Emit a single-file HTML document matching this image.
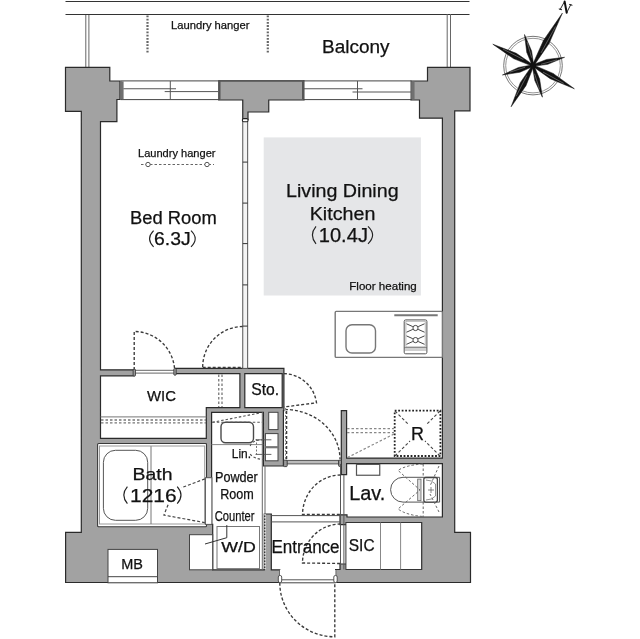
<!DOCTYPE html>
<html><head><meta charset="utf-8">
<style>
html,body{margin:0;padding:0;background:#fff;width:640px;height:639px;overflow:hidden}
svg{position:absolute;left:0;top:0;display:block;will-change:transform}
text{font-family:"Liberation Sans",sans-serif;fill:#111}
</style></head><body>
<svg width="640" height="639" viewBox="0 0 640 639">
<defs>
 <g id="walls">
  <polygon points="65.5,67.4 109.8,67.4 109.8,81 120,81 120,99.5 116.9,99.5 116.9,121.7 100.5,121.7 100.5,532 81.3,532 81.3,111.3 65.5,111.3"/>
  <polygon points="218.75,80.8 304,80.8 304,100 268.75,100 268.75,112 248,112 248,119.4 242.75,119.4 242.75,100 218.75,100"/>
  <polygon points="427.5,67.4 470,67.4 470,110.8 454.7,110.8 454.7,532.3 470.5,532.3 470.5,582.5 335.6,582.5 335.6,569.5 421.6,569.5 421.6,522.5 347,522.5 347,517 442.4,517 442.4,118.2 419.5,118.2 419.5,100 411,100 411,81 427.5,81"/>
  <polygon points="65.6,532.4 81.3,532.4 81.3,524.4 212.7,524.4 212.7,569.8 264.3,569.8 264.3,514 271.3,514 271.3,569.8 279.8,569.8 279.8,582.5 65.6,582.5"/>
  <rect x="100.5" y="438.3" width="110.9" height="5.9"/>
  <rect x="206.3" y="407.7" width="5.3" height="118"/>
  <rect x="206.3" y="407.7" width="77.1" height="4.6"/>
  <rect x="263.4" y="407.7" width="20" height="58.3"/>
  <rect x="100.5" y="369.8" width="33.6" height="6"/>
  <rect x="175.5" y="368.3" width="108.4" height="5.3"/>
  <rect x="239.9" y="372.5" width="4.9" height="35.5"/>
  <rect x="282.2" y="368.3" width="1.7" height="42.4"/>
  <rect x="341.3" y="410.6" width="5.3" height="64"/>
  <rect x="346.6" y="458.1" width="95.8" height="5.5"/>
  <rect x="340" y="514.8" width="7" height="9.9"/>
  <rect x="340" y="564" width="7" height="6"/>
 </g>
</defs>
<!-- balcony -->
<g stroke="#333" stroke-width="1" fill="none">
 <line x1="65.5" y1="1.5" x2="469.5" y2="1.5"/>
 <line x1="65.5" y1="14.5" x2="469.5" y2="14.5"/>
</g>
<g stroke="#666" stroke-width="1" fill="none">
 <line x1="85.8" y1="15" x2="85.8" y2="67.4"/><line x1="88.9" y1="15" x2="88.9" y2="67.4"/>
 <line x1="447.2" y1="14" x2="447.2" y2="67.4"/><line x1="450.5" y1="14" x2="450.5" y2="67.4"/>
</g>
<g stroke="#666" stroke-width="2.2" stroke-dasharray="1.8,1.4" fill="none">
 <line x1="147.5" y1="15.5" x2="147.5" y2="52.5"/>
 <line x1="267.8" y1="15.5" x2="267.8" y2="52.5"/>
</g>

<!-- living gray -->
<rect x="263.7" y="137.4" width="157.2" height="158.1" fill="#e5e6e8"/>

<!-- walls -->
<path id="wallpath" d="M81.30,111.30 L81.30,532.40 L65.60,532.40 L65.60,582.50 L279.80,582.50 L279.80,569.80 L271.30,569.80 L271.30,514.00 L264.30,514.00 L264.30,569.80 L212.70,569.80 L212.70,524.40 L211.60,524.40 L211.60,412.30 L263.40,412.30 L263.40,466.00 L283.40,466.00 L283.40,410.70 L283.90,410.70 L283.90,368.30 L175.50,368.30 L175.50,373.60 L239.90,373.60 L239.90,407.70 L206.30,407.70 L206.30,438.30 L100.50,438.30 L100.50,375.80 L134.10,375.80 L134.10,369.80 L100.50,369.80 L100.50,121.70 L116.90,121.70 L116.90,99.50 L120.00,99.50 L120.00,81.00 L109.80,81.00 L109.80,67.40 L65.50,67.40 L65.50,111.30 Z M282.20,407.70 L244.80,407.70 L244.80,373.60 L282.20,373.60 Z M206.30,444.20 L206.30,524.40 L100.50,524.40 L100.50,444.20 Z M248.00,119.40 L248.00,112.00 L268.75,112.00 L268.75,100.00 L304.00,100.00 L304.00,80.80 L218.75,80.80 L218.75,100.00 L242.75,100.00 L242.75,119.40 Z M419.50,100.00 L419.50,118.20 L442.40,118.20 L442.40,458.10 L346.60,458.10 L346.60,410.60 L341.30,410.60 L341.30,474.60 L346.60,474.60 L346.60,463.60 L442.40,463.60 L442.40,517.00 L347.00,517.00 L347.00,514.80 L340.00,514.80 L340.00,524.70 L347.00,524.70 L347.00,522.50 L421.60,522.50 L421.60,569.50 L347.00,569.50 L347.00,564.00 L340.00,564.00 L340.00,569.50 L335.60,569.50 L335.60,582.50 L470.50,582.50 L470.50,532.30 L454.70,532.30 L454.70,110.80 L470.00,110.80 L470.00,67.40 L427.50,67.40 L427.50,81.00 L411.00,81.00 L411.00,100.00 Z" fill="#a2a2a2" stroke="#2a2a2a" stroke-width="1.2" stroke-linejoin="miter"/>

<!-- windows -->
<g fill="#fff" stroke="#444" stroke-width="1">
 <rect x="121" y="80.9" width="97.75" height="18.7"/>
 <rect x="304" y="80.9" width="107" height="18.7"/>
</g>
<g stroke="#555" stroke-width="1" fill="none">
 <line x1="121.9" y1="81.3" x2="121.9" y2="99.2" stroke-width="3.4" stroke="#707070"/>
 <line x1="219.5" y1="81" x2="219.5" y2="99.5" stroke-width="2"/>
 <line x1="170.3" y1="81" x2="170.3" y2="99.5"/>
 <line x1="123.4" y1="88.75" x2="176" y2="88.75"/>
 <line x1="164.7" y1="91.6" x2="218" y2="91.6"/>
 <line x1="303" y1="81" x2="303" y2="99.5" stroke-width="2"/>
 <line x1="412.9" y1="81.3" x2="412.9" y2="99.2" stroke-width="3.3" stroke="#707070"/>
 <line x1="357.5" y1="81" x2="357.5" y2="99.5"/>
 <line x1="304" y1="88.75" x2="362.5" y2="88.75"/>
 <line x1="352.5" y1="92" x2="411" y2="92"/>
</g>

<!-- bedroom/living partition -->
<rect x="242.75" y="119.4" width="4.9" height="249" fill="#f4f4f4" stroke="#555" stroke-width="1"/>
<g stroke="#333" stroke-width="1.5">
 <rect x="242.4" y="118.6" width="5.6" height="3.2" rx="1.2" fill="#fff" stroke="#222" stroke-width="1.1"/>
 <line x1="242.75" y1="162.1" x2="247.65" y2="162.1" stroke-width="1"/>
 <line x1="242.75" y1="203.1" x2="247.65" y2="203.1" stroke-width="1"/>
 <line x1="242.75" y1="243.6" x2="247.65" y2="243.6" stroke-width="1"/>
 <line x1="242.75" y1="284.9" x2="247.65" y2="284.9" stroke-width="1"/>
 <line x1="242.75" y1="326.1" x2="247.65" y2="326.1" stroke-width="1"/>
</g>

<!-- bedroom hanger -->
<line x1="141" y1="164.5" x2="214" y2="164.5" stroke="#666" stroke-width="1" stroke-dasharray="2.5,2"/>
<circle cx="148" cy="164.5" r="2.2" fill="#fff" stroke="#555" stroke-width="1"/>
<circle cx="207" cy="164.5" r="2.2" fill="#fff" stroke="#555" stroke-width="1"/>

<!-- doors & dashed -->
<g fill="none" stroke="#3a3a3a" stroke-width="1.35" stroke-dasharray="3,2">
 <path d="M134.2,370 L134.2,331.5 A40.5,40.5 0 0 1 174.7,372"/>
 <path d="M202.7,367 A40.5,40.5 0 0 1 243.2,326.5"/>
 <line x1="202.7" y1="367.3" x2="243" y2="367.3"/>
 <path d="M283.9,373.6 A33.6,33.6 0 0 1 316.5,402.8 L283.9,407"/>
 <path d="M285,409.5 A55,50 0 0 1 340,459"/>
 <line x1="286.6" y1="411" x2="286.6" y2="459"/>
</g>
<!-- WIC sill -->
<rect x="134.2" y="370.3" width="40.8" height="2.8" fill="#fff" stroke="#666" stroke-width="1"/>
<rect x="133.1" y="369.2" width="2.4" height="6.8" rx="0.8" fill="#999" stroke="#333" stroke-width="0.8"/>
<rect x="173.8" y="368.4" width="2.4" height="6.8" rx="0.8" fill="#999" stroke="#333" stroke-width="0.8"/>
<!-- WIC hanger -->
<line x1="100.5" y1="416.9" x2="206.3" y2="416.9" stroke="#777" stroke-width="1"/>
<g stroke="#777" stroke-width="1.3" stroke-dasharray="2.5,2" fill="none">
 <line x1="101" y1="420" x2="206" y2="420"/>
 <line x1="101" y1="422.8" x2="206" y2="422.8"/>
 <line x1="218.75" y1="374.5" x2="218.75" y2="407"/>
 <line x1="222" y1="374.5" x2="222" y2="407"/>
</g>

<!-- hall thin wall -->
<rect x="286.5" y="460.4" width="52.5" height="3.5" fill="#bbb" stroke="#555" stroke-width="1"/>
<rect x="283.6" y="460.2" width="3.6" height="6.4" rx="0.8" fill="#999" stroke="#333" stroke-width="0.9"/>
<rect x="338.6" y="460.1" width="2.9" height="6.3" rx="0.8" fill="#999" stroke="#333" stroke-width="0.9"/>

<!-- powder room -->
<rect x="221" y="422.3" width="32.5" height="20.5" rx="4.5" fill="#fff" stroke="#4a4a4a" stroke-width="1.4"/>
<line x1="211.6" y1="444.6" x2="263.4" y2="444.6" stroke="#888" stroke-width="1"/>
<g fill="none" stroke="#555" stroke-width="1.1" stroke-dasharray="2.5,2">
 <line x1="212.3" y1="422.3" x2="260.8" y2="412.8"/>
 <line x1="212.3" y1="422.3" x2="262" y2="422.3"/>
 <path d="M250.2,446 Q252,440 263,439.8"/>
 <path d="M250.2,454.1 Q254,459 263.4,459.4"/>
</g>
<rect x="268.7" y="412.3" width="9.3" height="17.3" fill="#fff" stroke="#444" stroke-width="1"/>
<rect x="265.4" y="433.6" width="12.6" height="27.2" fill="#fff" stroke="#444" stroke-width="1"/>
<line x1="265.4" y1="447.2" x2="278" y2="447.2" stroke="#777" stroke-width="2.2"/>
<line x1="255.5" y1="439.8" x2="271.4" y2="439.8" stroke="#555" stroke-width="0.9"/>
<line x1="255.5" y1="454.4" x2="271.4" y2="454.4" stroke="#555" stroke-width="0.9"/>
<line x1="256.5" y1="439" x2="256.5" y2="455" stroke="#666" stroke-width="0.9" stroke-dasharray="2,1.5"/>
<line x1="263.4" y1="412.5" x2="263.4" y2="464" stroke="#333" stroke-width="1" stroke-dasharray="2.5,1.5"/>
<line x1="285.5" y1="408" x2="285.5" y2="460" stroke="#888" stroke-width="1" stroke-dasharray="2,1.5"/>

<!-- bath -->
<rect x="97.6" y="443.5" width="108.9" height="83.2" rx="1" fill="#fff" stroke="#3a3a3a" stroke-width="1.1"/>
<rect x="99.5" y="446" width="105.2" height="78" fill="#fff" stroke="#9a9a9a" stroke-width="1"/>
<rect x="103.4" y="450.3" width="44.3" height="70" rx="12" fill="#fff" stroke="#555" stroke-width="1"/>
<line x1="151" y1="446.2" x2="151" y2="524" stroke="#777" stroke-width="1"/>
<rect x="205.4" y="477.7" width="6.5" height="46.7" fill="#fff" stroke="#555" stroke-width="1"/>
<path d="M204.8,478.9 L181.3,487.8 M168.1,504.7 L163.9,515.1 L204.8,522.6" fill="none" stroke="#444" stroke-width="1.2" stroke-dasharray="3,2"/>
<!-- MB / counter / WD -->
<rect x="108" y="549.4" width="49.5" height="33.4" fill="#fff" stroke="#444" stroke-width="1"/>
<line x1="108" y1="576.7" x2="157.5" y2="576.7" stroke="#444" stroke-width="1"/>
<rect x="189.5" y="534.7" width="23.2" height="35.1" fill="#fff" stroke="#444" stroke-width="1"/>
<rect x="217" y="526.5" width="42.5" height="42.1" fill="#fff" stroke="#777" stroke-width="1"/>
<line x1="262.3" y1="412" x2="262.3" y2="570" stroke="#666" stroke-width="1"/>
<line x1="265" y1="465" x2="265" y2="514" stroke="#666" stroke-width="1"/>
<line x1="265" y1="514" x2="265" y2="569" stroke="#fff" stroke-width="1.2" stroke-dasharray="1.5,1.5"/>
<path d="M226.8,525.1 L226.8,537.7 L205,544" fill="none" stroke="#333" stroke-width="1"/>

<!-- entrance -->
<line x1="271.3" y1="515.6" x2="340.5" y2="515.6" stroke="#555" stroke-width="1"/>
<line x1="271.3" y1="521.9" x2="340.5" y2="521.9" stroke="#555" stroke-width="1"/>
<line x1="340.5" y1="463.9" x2="340.5" y2="569.5" stroke="#555" stroke-width="1"/>
<line x1="343.9" y1="474.8" x2="343.9" y2="569.5" stroke="#555" stroke-width="1"/>
<g fill="none" stroke="#3a3a3a" stroke-width="1.35" stroke-dasharray="3,2">
 <path d="M340.5,475 A38,40 0 0 0 302.5,514.5 L340.5,514.5"/>
 <path d="M340.5,524 A38,39 0 0 0 302.5,563 L340.5,563.5"/>
 <path d="M279.8,582.8 A55,54 0 0 0 334.8,636.8 L334.8,582.8"/>
</g>
<rect x="279.8" y="570" width="55.8" height="12.8" fill="#fff" stroke="none"/>
<line x1="279.8" y1="579.8" x2="335.6" y2="579.8" stroke="#555" stroke-width="1"/>
<line x1="279.8" y1="582.8" x2="335.6" y2="582.8" stroke="#444" stroke-width="1"/>
<rect x="278.3" y="575.5" width="3.4" height="7" rx="1.5" fill="#fff" stroke="#444" stroke-width="0.9"/>
<rect x="333.8" y="575.5" width="3.4" height="7" rx="1.5" fill="#fff" stroke="#444" stroke-width="0.9"/>

<!-- kitchen -->
<rect x="335.2" y="311.4" width="107.2" height="46" rx="1" fill="#fff" stroke="#777" stroke-width="1.4"/>
<rect x="346" y="324.7" width="29.5" height="28.3" rx="6" fill="#fff" stroke="#777" stroke-width="1.4"/>
<line x1="394.3" y1="315.2" x2="437.7" y2="315.2" stroke="#777" stroke-width="2"/>
<rect x="404.2" y="319.9" width="22.7" height="33.9" rx="1.5" fill="#fff" stroke="#555" stroke-width="1"/>
<rect x="405.9" y="321.2" width="19.3" height="25.7" fill="none" stroke="#999" stroke-width="0.7"/>
<line x1="404.2" y1="347.8" x2="426.9" y2="347.8" stroke="#666" stroke-width="1"/>
<line x1="404.2" y1="350" x2="426.9" y2="350" stroke="#888" stroke-width="0.8"/>
<g stroke="#444" stroke-width="1" fill="none">
 <path d="M406.5,323.8 L412.8,326.6 M424.5,323.8 L418.2,326.6 M406.5,332.2 L412.8,329.4 M424.5,332.2 L418.2,329.4"/>
 <circle cx="415.5" cy="328" r="2.6"/>
 <path d="M406.5,335.9 L412.8,338.7 M424.5,335.9 L418.2,338.7 M406.5,344.3 L412.8,341.5 M424.5,344.3 L418.2,341.5"/>
 <circle cx="415.5" cy="340.1" r="2.6"/>
</g>

<!-- R -->
<rect x="394.7" y="410.7" width="45.7" height="45.3" fill="none" stroke="#222" stroke-width="1.8" stroke-dasharray="1.8,1.7"/>
<g stroke="#444" stroke-width="1.1" stroke-dasharray="3,2">
 <line x1="395" y1="411" x2="409" y2="425"/><line x1="440" y1="411" x2="426" y2="425"/>
 <line x1="395" y1="456" x2="410" y2="441"/><line x1="440" y1="456" x2="425" y2="441"/>
</g>
<g stroke="#888" stroke-width="1.2" stroke-dasharray="2.5,2" fill="none">
 <line x1="347" y1="428.6" x2="394" y2="428.6"/>
 <line x1="347" y1="432.6" x2="394" y2="432.6"/>
 <line x1="347.5" y1="457.5" x2="394" y2="434"/>
</g>

<!-- Lav -->
<rect x="356.5" y="464.4" width="23.25" height="10.85" fill="#fff" stroke="#555" stroke-width="1.2"/>
<path d="M403,477.3 L439.6,477.3 L439.6,502.1 L403,502.1 A12.4,12.4 0 0 1 403,477.3 Z" fill="#fff" stroke="#555" stroke-width="1"/>
<rect x="417.7" y="479.1" width="3.3" height="21.6" fill="#ddd" stroke="#666" stroke-width="0.8"/>
<rect x="423.8" y="477.5" width="13.6" height="24.6" rx="2" fill="#fff" stroke="#444" stroke-width="1.3"/>
<path d="M426,480 Q432,480 435.5,484 L435.5,496 Q432,500 426,500" fill="none" stroke="#777" stroke-width="0.8"/>
<path d="M428,490 L434,490 M431,487 L431,493" stroke="#666" stroke-width="0.8"/>
<g fill="none" stroke="#666" stroke-width="1" stroke-dasharray="2.5,2">
 <path d="M423,464 Q406,465 398,470.4 L420,490 L398,509 Q406,515 423,516.5"/>
 <line x1="423.2" y1="464" x2="423.2" y2="477"/>
 <line x1="423.2" y1="502" x2="423.2" y2="517"/>
 <path d="M439,466 L430,486 M439,512 L430,494"/>
</g>

<!-- SIC -->
<rect x="345.9" y="522.5" width="75.7" height="47" fill="#fff" stroke="#333" stroke-width="1"/>
<line x1="380.5" y1="522.5" x2="380.5" y2="569.5" stroke="#888" stroke-width="1"/>
<line x1="400.6" y1="522.5" x2="400.6" y2="569.5" stroke="#888" stroke-width="1"/>

<!-- compass -->
<g fill="none">
 <circle cx="533.0" cy="65.6" r="29.3" stroke="#666" stroke-width="0.9"/>
 <circle cx="533.0" cy="65.6" r="27.3" stroke="#888" stroke-width="0.9"/>
</g>
<g fill="#111" stroke="#111" stroke-width="0.5" stroke-linejoin="round">
<polygon points="533.70,65.99 549.02,43.54 562.40,13.10 543.44,40.41 532.30,65.21"/>
<polygon points="532.29,65.22 520.32,82.64 511.10,106.80 525.97,85.64 533.71,65.98"/>
<polygon points="533.38,64.89 516.32,53.32 492.80,44.20 513.50,58.62 532.62,66.31"/>
<polygon points="532.61,66.30 550.16,78.66 574.40,88.80 553.10,73.42 533.39,64.90"/>
<polygon points="533.77,65.39 531.59,50.95 524.50,34.50 526.76,52.26 532.23,65.81"/>
<polygon points="533.20,66.37 547.86,64.28 564.60,57.30 546.58,59.45 532.80,64.83"/>
<polygon points="532.77,64.84 518.50,67.44 502.40,75.00 519.96,72.22 533.23,66.36"/>
<polygon points="532.23,65.83 534.83,80.53 542.40,97.20 539.63,79.11 533.77,65.37"/>
</g>
<g stroke="#fff" stroke-width="0.45" opacity="0.7">
<line x1="541.05" y1="52.87" x2="555.49" y2="26.47"/>
<line x1="526.82" y1="75.52" x2="516.13" y2="96.27"/>
<line x1="523.33" y1="59.54" x2="503.08" y2="49.11"/>
<line x1="542.96" y1="72.10" x2="563.81" y2="83.44"/>
<line x1="531.65" y1="57.61" x2="527.11" y2="42.14"/>
<line x1="541.10" y1="64.30" x2="556.83" y2="59.86"/>
<line x1="525.12" y1="67.19" x2="509.90" y2="72.17"/>
<line x1="534.58" y1="73.73" x2="539.57" y2="89.44"/>
</g>
<circle cx="533.0" cy="65.6" r="3" fill="#111"/>
<g fill="none" stroke="#111" stroke-linecap="round">
 <path d="M560.3,9.2 L564.6,1.4" stroke-width="0.9"/>
 <path d="M564.6,1.4 L566.7,12.7" stroke-width="2"/>
 <path d="M566.7,12.7 L570.7,4.7" stroke-width="0.9"/>
 <path d="M559.2,9 L561.6,9.7" stroke-width="1"/>
 <path d="M569.6,4.5 L572,5.2" stroke-width="1"/>
</g>

<!-- texts -->
<g class="lbl" stroke="#111" stroke-width="0.25">
<text x="171.00" y="29.40" font-size="10.97" textLength="78.51" lengthAdjust="spacingAndGlyphs">Laundry hanger</text>
<text x="322.00" y="52.60" font-size="18.55" textLength="67.55" lengthAdjust="spacingAndGlyphs">Balcony</text>
<text x="138.00" y="157.40" font-size="11.32" textLength="77.51" lengthAdjust="spacingAndGlyphs">Laundry hanger</text>
<text x="130.00" y="224.00" font-size="18.41" textLength="86.83" lengthAdjust="spacingAndGlyphs">Bed Room</text>
<text x="154.00" y="244.60" font-size="17.51" textLength="36.66" lengthAdjust="spacingAndGlyphs">6.3J</text>
<text x="286.00" y="197.30" font-size="18.13" textLength="112.58" lengthAdjust="spacingAndGlyphs">Living Dining</text>
<text x="309.75" y="219.70" font-size="19.03" textLength="65.64" lengthAdjust="spacingAndGlyphs">Kitchen</text>
<text x="318.75" y="242.00" font-size="19.81" textLength="49.19" lengthAdjust="spacingAndGlyphs">10.4J</text>
<text x="349.25" y="289.60" font-size="11.26" textLength="67.54" lengthAdjust="spacingAndGlyphs">Floor heating</text>
<text x="147.00" y="401.30" font-size="15.36" textLength="29.01" lengthAdjust="spacingAndGlyphs">WIC</text>
<text x="251.25" y="394.50" font-size="15.63" textLength="27.92" lengthAdjust="spacingAndGlyphs">Sto.</text>
<text x="132.50" y="479.70" font-size="16.95" textLength="39.95" lengthAdjust="spacingAndGlyphs">Bath</text>
<text x="130.00" y="502.10" font-size="18.55" textLength="46.62" lengthAdjust="spacingAndGlyphs">1216</text>
<text x="231.75" y="457.90" font-size="13.06" textLength="19.23" lengthAdjust="spacingAndGlyphs">Lin.</text>
<text x="215.00" y="482.20" font-size="14.17" textLength="42.80" lengthAdjust="spacingAndGlyphs">Powder</text>
<text x="220.25" y="498.90" font-size="13.79" textLength="33.60" lengthAdjust="spacingAndGlyphs">Room</text>
<text x="214.75" y="521.30" font-size="14.66" textLength="39.77" lengthAdjust="spacingAndGlyphs">Counter</text>
<text x="221.25" y="552.30" font-size="14.31" textLength="34.53" lengthAdjust="spacingAndGlyphs">W/D</text>
<text x="121.25" y="568.70" font-size="14.21" textLength="21.70" lengthAdjust="spacingAndGlyphs">MB</text>
<text x="349.25" y="500.00" font-size="19.49" textLength="36.11" lengthAdjust="spacingAndGlyphs">Lav.</text>
<text x="271.50" y="552.50" font-size="17.74" textLength="68.07" lengthAdjust="spacingAndGlyphs">Entrance</text>
<text x="348.75" y="551.00" font-size="15.63" textLength="25.83" lengthAdjust="spacingAndGlyphs">SIC</text>
<text x="411.00" y="439.70" font-size="17.69" textLength="12.97" lengthAdjust="spacingAndGlyphs">R</text>
</g>
<g fill="none" stroke="#222" stroke-width="1.15">
<path d="M153.60,230.60 Q145.60,238.70 153.60,246.80"/>
<path d="M191.00,230.60 Q199.40,238.70 191.00,246.80"/>
<path d="M316.00,226.30 Q308.80,235.05 316.00,243.80"/>
<path d="M368.00,226.30 Q377.20,235.05 368.00,243.80"/>
<path d="M127.40,486.60 Q120.20,495.10 127.40,503.60"/>
<path d="M177.20,486.60 Q184.80,495.10 177.20,503.60"/>
</g>
</svg>
</body></html>
